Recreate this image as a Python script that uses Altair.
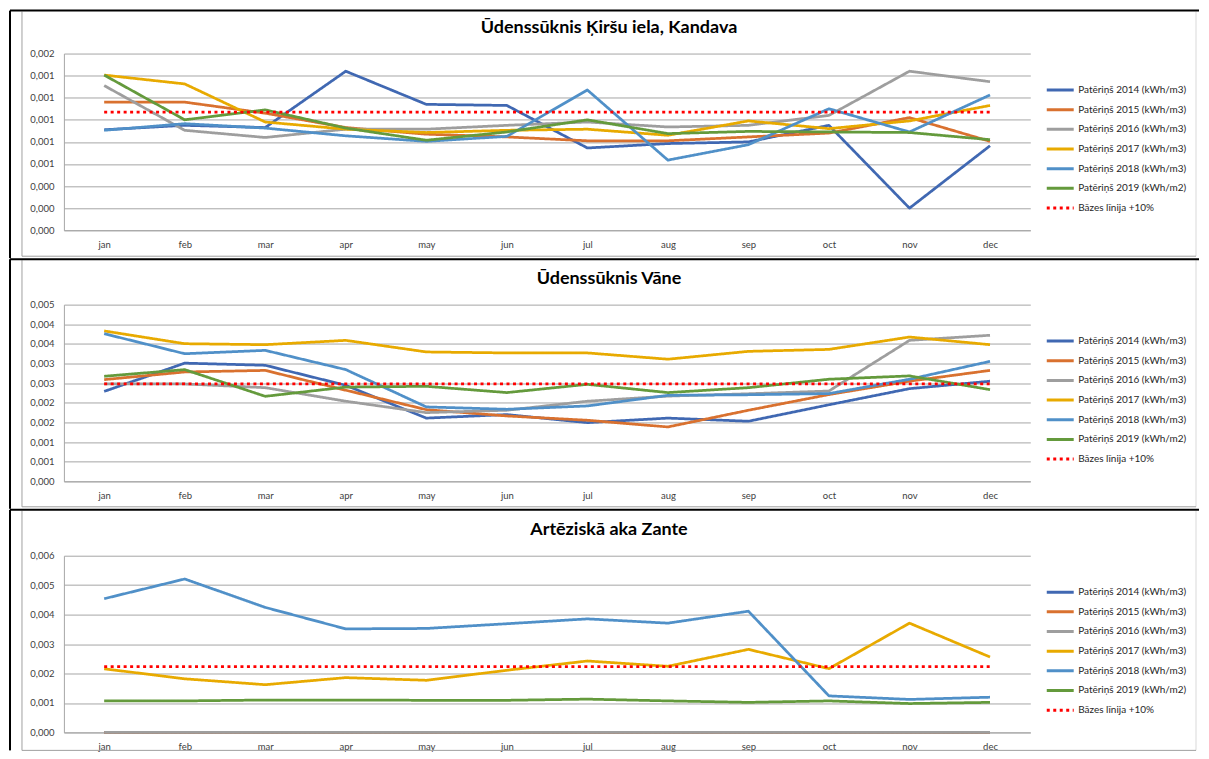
import altair as alt
import pandas as pd

months = ['jan', 'feb', 'mar', 'apr', 'may', 'jun', 'jul', 'aug', 'sep', 'oct', 'nov', 'dec']
series_names = ['Patēriņš 2014 (kWh/m3)', 'Patēriņš 2015 (kWh/m3)', 'Patēriņš 2016 (kWh/m3)',
                'Patēriņš 2017 (kWh/m3)', 'Patēriņš 2018 (kWh/m3)', 'Patēriņš 2019 (kWh/m2)',
                'Bāzes līnija +10%']
series_colors = ['#4068B2', '#D9712F', '#9E9E9E', '#E8AA00', '#5090C8', '#649A3C', '#FF0000']
series_dashes = [[1, 0], [1, 0], [1, 0], [1, 0], [1, 0], [1, 0], [3, 3.5]]

titles = ['Ūdenssūknis Ķiršu iela, Kandava', 'Ūdenssūknis Vāne', 'Artēziskā aka Zante']

# Panel 1: Ūdenssūknis Ķiršu iela, Kandava
k_2014 = [0.00091, 0.00095, 0.00093, 0.00144, 0.00114, 0.00113, 0.000745, 0.000785, 0.0008, 0.00095, 0.0002, 0.000765]
k_2015 = [0.00116, 0.00116, 0.00106, 0.00093, 0.00087, 0.000845, 0.00081, 0.00081, 0.000845, 0.00088, 0.00102, 0.000805]
k_2016 = [0.00131, 0.000905, 0.00084, 0.000915, 0.000915, 0.00095, 0.00098, 0.000935, 0.00095, 0.00104, 0.00144, 0.001345]
k_2017 = [0.001405, 0.001325, 0.00098, 0.000915, 0.000885, 0.000905, 0.000915, 0.00086, 0.00099, 0.00092, 0.00099, 0.00113]
k_2018 = [0.000905, 0.000965, 0.000925, 0.000855, 0.000805, 0.00085, 0.00127, 0.000635, 0.000775, 0.0011, 0.00089, 0.001225]
k_2019 = [0.001405, 0.001, 0.00109, 0.000925, 0.000815, 0.00089, 0.001, 0.000875, 0.000895, 0.00089, 0.000885, 0.00082]
k_base = [0.00107] * 12
k_ticks = [0, 0.0002, 0.0004, 0.0006, 0.0008, 0.001, 0.0012, 0.0014, 0.0016]

# Panel 2: Ūdenssūknis Vāne
v_2014 = [0.00229, 0.00301, 0.002955, 0.002445, 0.00161, 0.0017, 0.001495, 0.00161, 0.00153, 0.00195, 0.00236, 0.00255]
v_2015 = [0.00259, 0.002785, 0.002825, 0.00232, 0.001825, 0.001665, 0.001555, 0.001385, 0.00181, 0.00221, 0.00255, 0.002825]
v_2016 = [0.00248, 0.00248, 0.002385, 0.00204, 0.00175, 0.00181, 0.00204, 0.00217, 0.00223, 0.0023, 0.00359, 0.00372]
v_2017 = [0.00383, 0.003505, 0.00348, 0.00359, 0.003295, 0.00327, 0.00327, 0.00311, 0.00331, 0.00336, 0.003675, 0.00348]
v_2018 = [0.00376, 0.00325, 0.003335, 0.002845, 0.001895, 0.001835, 0.00192, 0.00219, 0.002205, 0.002235, 0.0026, 0.003055]
v_2019 = [0.002675, 0.002845, 0.002165, 0.0024, 0.00242, 0.00226, 0.00247, 0.00226, 0.002385, 0.0026, 0.002685, 0.002335]
v_base = [0.00248] * 12
v_ticks = [0, 0.0005, 0.001, 0.0015, 0.002, 0.0025, 0.003, 0.0035, 0.004, 0.0045]

# Panel 3: Artēziskā aka Zante
z_2014 = [0.0] * 12
z_2015 = [0.0] * 12
z_2016 = [0.0] * 12
z_2017 = [0.00216, 0.00182, 0.00162, 0.00186, 0.00177, 0.00211, 0.002425, 0.002245, 0.00282, 0.002165, 0.00371, 0.00256]
z_2018 = [0.00454, 0.00521, 0.004245, 0.003515, 0.00353, 0.00369, 0.003855, 0.00371, 0.004115, 0.00124, 0.00112, 0.001195]
z_2019 = [0.00107, 0.00107, 0.0011, 0.0011, 0.00109, 0.00109, 0.00113, 0.00107, 0.00102, 0.00107, 0.00098, 0.00102]
z_base = [0.00223] * 12
z_ticks = [0, 0.001, 0.002, 0.003, 0.004, 0.005, 0.006]

FONT = 'Lato'
PLOT_W = 968
PLOT_H = 177


def panel_df(series_values):
    rows = []
    for name, vals in zip(series_names, series_values):
        for i, (m, v) in enumerate(zip(months, vals)):
            rows.append({'month': m, 'idx': i, 'series': name, 'value': v})
    return pd.DataFrame(rows)


def make_panel(title, series_values, ticks, top, bottom, gray_bottom):
    df = panel_df(series_values)
    legend = alt.Legend(title=None, orient='none', legendX=983, legendY=29.5,
                        symbolType='stroke', symbolSize=729, symbolStrokeWidth=3,
                        clipHeight=14, rowPadding=5.7, labelOffset=3, padding=0,
                        labelFont=FONT, labelFontSize=10, labelColor='#262626',
                        labelLimit=200)
    lines = alt.Chart(df).mark_line(strokeWidth=2.75, strokeJoin='round').encode(
        x=alt.X('month:O', sort=months,
                scale=alt.Scale(type='point', padding=0.5, domain=months),
                axis=alt.Axis(title=None, labelAngle=0, ticks=False, grid=False,
                              domainColor='#A6A6A6', labelPadding=9,
                              labelFont=FONT, labelFontSize=9.5, labelColor='#404040')),
        y=alt.Y('value:Q',
                scale=alt.Scale(domain=[ticks[0], ticks[-1]], nice=False, zero=True),
                axis=alt.Axis(title=None, values=ticks, ticks=False, grid=True,
                              gridColor='#A6A6A6', domainColor='#A6A6A6',
                              labelPadding=10, labelFont=FONT, labelFontSize=9.5,
                              labelColor='#404040',
                              labelExpr="replace(format(datum.value + 0.0000001, '.3f'), '.', ',')")),
        color=alt.Color('series:N', scale=alt.Scale(domain=series_names, range=series_colors),
                        legend=legend),
        strokeDash=alt.StrokeDash('series:N', scale=alt.Scale(domain=series_names, range=series_dashes),
                                  legend=legend),
        order='idx:Q',
    )
    one = alt.Data(values=[{'a': 1}])
    title_text = alt.Chart(alt.Data(values=[{'t': title}])).mark_text(
        font=FONT, fontSize=18, fontWeight='bold', color='black',
        align='center', baseline='middle').encode(
        x=alt.value(546), y=alt.value(-26), text='t:N')
    top_rule = alt.Chart(one).mark_rule(color='black', strokeWidth=2).encode(
        x=alt.value(-54), x2=alt.value(1137), y=alt.value(top))
    left_rule = alt.Chart(one).mark_rule(color='black', strokeWidth=2).encode(
        x=alt.value(-54), y=alt.value(top), y2=alt.value(bottom))
    gray_left = alt.Chart(one).mark_rule(color='#A0A0A0', strokeWidth=1).encode(
        x=alt.value(-42), y=alt.value(top + 1), y2=alt.value(gray_bottom))
    gray_right = alt.Chart(one).mark_rule(color='#D9D9D9', strokeWidth=1).encode(
        x=alt.value(1134), y=alt.value(top + 1), y2=alt.value(gray_bottom))
    gray_bot = alt.Chart(one).mark_rule(color='#A0A0A0', strokeWidth=1).encode(
        x=alt.value(-42), x2=alt.value(1134), y=alt.value(gray_bottom))
    return alt.layer(gray_left, gray_right, gray_bot, lines, title_text, top_rule, left_rule).properties(
        width=PLOT_W, height=PLOT_H,
    ).resolve_scale(color='independent', strokeDash='independent')


p1 = make_panel(titles[0], [k_2014, k_2015, k_2016, k_2017, k_2018, k_2019, k_base], k_ticks,
                top=-43, bottom=205, gray_bottom=203)
p2 = make_panel(titles[1], [v_2014, v_2015, v_2016, v_2017, v_2018, v_2019, v_base], v_ticks,
                top=-45.5, bottom=204.5, gray_bottom=202.5)
p3 = make_panel(titles[2], [z_2014, z_2015, z_2016, z_2017, z_2018, z_2019, z_base], z_ticks,
                top=-46, bottom=195, gray_bottom=195)

chart = alt.vconcat(p1, p2, p3, spacing=74.5, bounds='flush').resolve_scale(
    color='independent', strokeDash='independent', y='independent', x='independent'
).properties(padding=0, background='white').configure_view(stroke='transparent')

chart.save("out.html", embed_options={"renderer": "svg", "actions": False})
